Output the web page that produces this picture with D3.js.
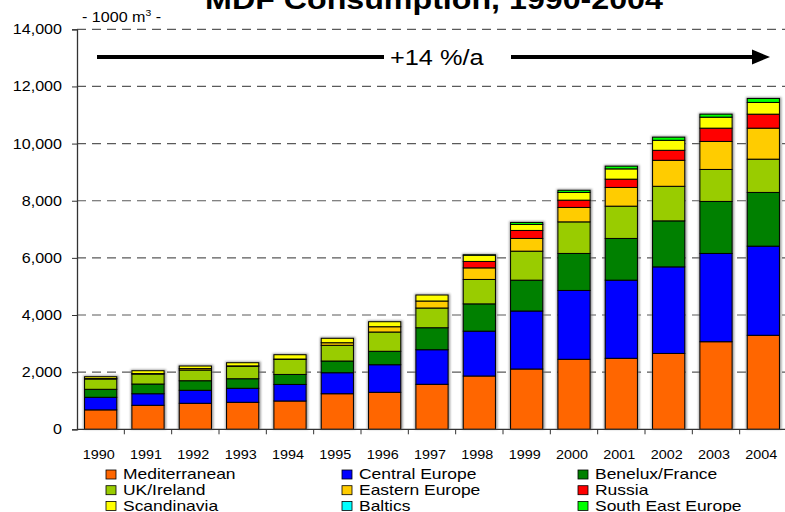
<!DOCTYPE html>
<html>
<head>
<meta charset="utf-8">
<script src="https://cdn.jsdelivr.net/npm/d3@7/dist/d3.min.js"></script>
<style>
  html, body { margin: 0; padding: 0; background: #fff; }
  svg { display: block; font-family: "Liberation Sans", Arial, sans-serif; }
</style>
</head>
<body>
<svg id="chart" width="785" height="512"></svg>
<script>
// MDF consumption by region, thousand cubic metres (stacked, bottom to top)
const years = ["1990","1991","1992","1993","1994","1995","1996","1997","1998","1999","2000","2001","2002","2003","2004"];
const mediterranean   = [680, 840, 910, 945, 990, 1245, 1295, 1575, 1865, 2110, 2450, 2485, 2655, 3065, 3290];
const centralEurope   = [440, 405, 455, 490, 580, 735, 965, 1210, 1570, 2030, 2410, 2735, 3030, 3090, 3120];
const beneluxFrance   = [280, 340, 335, 335, 350, 410, 470, 770, 955, 1080, 1295, 1460, 1610, 1820, 1880];
const ukIreland       = [360, 350, 375, 435, 525, 550, 675, 690, 855, 1015, 1105, 1130, 1210, 1120, 1165];
const easternEurope   = [20, 15, 50, 15, 15, 90, 185, 245, 405, 445, 505, 655, 910, 980, 1085];
const russia          = [0, 0, 0, 0, 0, 0, 0, 0, 225, 280, 255, 290, 350, 465, 490];
const scandinavia     = [60, 100, 90, 110, 150, 155, 175, 210, 220, 210, 270, 360, 350, 385, 410];
const baltics         = [0, 0, 0, 0, 0, 0, 0, 0, 0, 0, 0, 0, 0, 0, 0];
const southEastEurope = [0, 0, 0, 0, 0, 0, 0, 0, 10, 70, 75, 95, 110, 105, 140];

const seriesNames = ["Mediterranean","Central Europe","Benelux/France","UK/Ireland","Eastern Europe","Russia","Scandinavia","Baltics","South East Europe"];
const seriesValues = [mediterranean, centralEurope, beneluxFrance, ukIreland, easternEurope, russia, scandinavia, baltics, southEastEurope];
const seriesColors = ["#ff6600","#0000ff","#008000","#99cc00","#ffcc00","#ff0000","#ffff00","#00ffff","#00ff00"];

const yTicks = [0, 2000, 4000, 6000, 8000, 10000, 12000, 14000];
const growthLabel = "+14 %/a";
const titleText = "MDF Consumption, 1990-2004";

const svg = d3.select("#chart");
const STRETCH = 1.15;   // text is drawn slightly wide

function label(g, px, py, text, size, anchor, weight) {
  return g.append("text")
    .attr("transform", `translate(${px},${py}) scale(${STRETCH},1)`)
    .attr("font-size", size)
    .attr("font-weight", weight || "normal")
    .attr("text-anchor", anchor || "start")
    .attr("fill", "#000")
    .text(text);
}

const plotLeft = 77, plotRight = 787, plotTop = 29.3, plotBottom = 429.3;

const x = d3.scaleBand().domain(years).range([plotLeft, plotRight])
  .paddingInner(0.32).paddingOuter(0.16);
const y = d3.scaleLinear().domain([0, 14000]).range([plotBottom, plotTop]);

// table for the stack layout
const table = years.map((yr, i) => {
  const row = { year: yr };
  seriesNames.forEach((n, s) => row[n] = seriesValues[s][i]);
  return row;
});
const stacked = d3.stack().keys(seriesNames)(table);

const defs = svg.append("defs");
defs.append("filter").attr("id", "soft").attr("x", "-20%").attr("y", "-20%")
  .attr("width", "140%").attr("height", "140%")
  .append("feGaussianBlur").attr("stdDeviation", 0.9);

// dashed gridlines
svg.append("g").selectAll("line")
  .data(yTicks.filter(d => d > 0))
  .join("line")
  .attr("x1", plotLeft).attr("x2", 785)
  .attr("y1", d => y(d)).attr("y2", d => y(d))
  .attr("stroke", "#5a5a5a").attr("stroke-width", 1.2)
  .attr("stroke-dasharray", "9,6");

// shadows behind each column
const totals = years.map((yr, i) => d3.sum(seriesValues, v => v[i]));
svg.append("g").selectAll("rect")
  .data(years)
  .join("rect")
  .attr("x", d => x(d) - 1.2)
  .attr("width", x.bandwidth() + 3.2)
  .attr("y", (d, i) => y(totals[i]) - 1.2)
  .attr("height", (d, i) => plotBottom - y(totals[i]) + 1.2)
  .attr("fill", "#777").attr("opacity", 0.75)
  .attr("filter", "url(#soft)");

// stacked segments
const layers = svg.append("g").selectAll("g")
  .data(stacked)
  .join("g")
  .attr("fill", (d, i) => seriesColors[i]);
layers.selectAll("rect")
  .data(d => d.filter(p => p[1] - p[0] > 0))
  .join("rect")
  .attr("x", p => x(p.data.year))
  .attr("width", x.bandwidth())
  .attr("y", p => y(p[1]))
  .attr("height", p => y(p[0]) - y(p[1]))
  .attr("stroke", "#000").attr("stroke-width", 1);

// y axis
const yAxis = svg.append("g").attr("transform", `translate(${plotLeft},0)`)
  .call(d3.axisLeft(y).tickValues(yTicks).tickSize(5).tickFormat(() => ""));
yAxis.select(".domain").attr("stroke", "#333").attr("stroke-width", 1.3);
yAxis.selectAll(".tick line").attr("stroke", "#333");
yTicks.forEach(t => label(svg, 62, y(t) + 5, d3.format(",")(t), 14, "end"));

// x axis with ticks at category boundaries
const step = x.step();
svg.append("line").attr("x1", plotLeft).attr("x2", 785)
  .attr("y1", plotBottom).attr("y2", plotBottom)
  .attr("stroke", "#333").attr("stroke-width", 1.3);
svg.append("g").selectAll("line")
  .data(years)
  .join("line")
  .attr("x1", d => x(d) + x.bandwidth() + (step - x.bandwidth()) / 2)
  .attr("x2", d => x(d) + x.bandwidth() + (step - x.bandwidth()) / 2)
  .attr("y1", plotBottom).attr("y2", plotBottom + 5)
  .attr("stroke", "#333");
years.forEach(yr => label(svg, x(yr) + x.bandwidth() / 2 - 2, 459.3, yr, 12.5, "middle"));

// unit label
const unit = svg.append("text")
  .attr("transform", `translate(82,21.5) scale(${STRETCH},1)`)
  .attr("font-size", 14);
unit.append("tspan").text("- 1000 m");
unit.append("tspan").attr("font-size", 9).attr("dy", -6).text("3");
unit.append("tspan").attr("dy", 6).text(" -");

// title (partly above the top edge)
label(svg, 434, 9, titleText, 28, "middle", "bold");

// growth arrow
const arrowY = 57;
svg.append("line").attr("x1", 97).attr("x2", 384).attr("y1", arrowY).attr("y2", arrowY)
  .attr("stroke", "#000").attr("stroke-width", 4);
svg.append("line").attr("x1", 511).attr("x2", 756).attr("y1", arrowY).attr("y2", arrowY)
  .attr("stroke", "#000").attr("stroke-width", 4);
svg.append("path")
  .attr("d", `M752,${arrowY - 7.5} L770,${arrowY} L752,${arrowY + 7.5} Z`)
  .attr("fill", "#000");
label(svg, 390, arrowY + 8, growthLabel, 22, "start");

// legend, three columns by three rows
const colX = [106, 342, 578];
const rowY = [479.3, 495, 510.7];
seriesNames.forEach((name, i) => {
  const cx = colX[i % 3], cy = rowY[Math.floor(i / 3)];
  svg.append("rect")
    .attr("x", cx).attr("y", cy - 9.3).attr("width", 10).attr("height", 9)
    .attr("fill", seriesColors[i]).attr("stroke", "#000").attr("stroke-width", 0.8);
  label(svg, cx + 17, cy, name, 15.2, "start");
});
</script>
</body>
</html>
